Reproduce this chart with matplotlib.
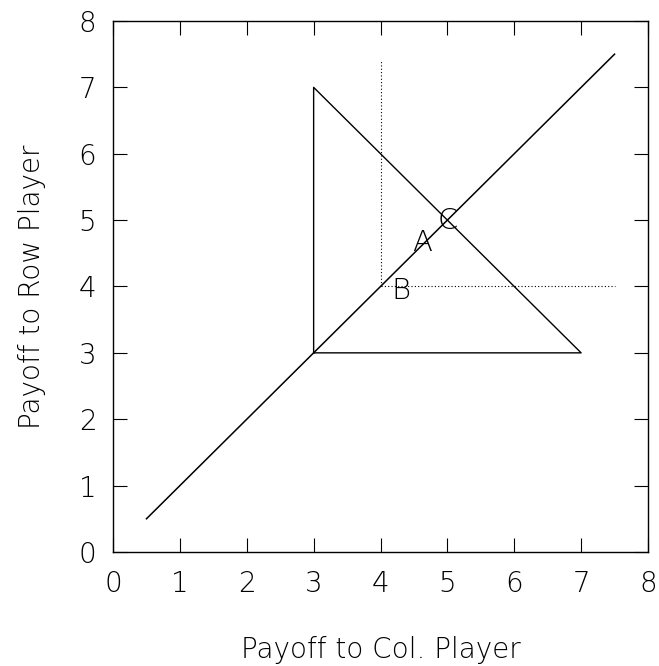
import matplotlib
matplotlib.use("Agg")
import matplotlib.pyplot as plt

# Feasible payoff triangle (column payoff, row payoff)
triangle_x = [3, 3, 7, 3]
triangle_y = [3, 7, 3, 3]

# 45-degree line of equal payoffs
diag_x = [0.5, 7.5]
diag_y = [0.5, 7.5]

# Dotted guide lines through point B
vguide_x = [4, 4]
vguide_y = [4, 7.4]
hguide_x = [4, 7.5]
hguide_y = [4, 4]

# Point labels
point_names = ["A", "B", "C"]
point_x = [4.62, 4.31, 5.01]
point_y = [4.65, 3.93, 4.99]

ticks = [0, 1, 2, 3, 4, 5, 6, 7, 8]

plt.rcParams['font.family'] = ['DejaVu Sans']
fig = plt.figure(figsize=(6.59, 6.66), dpi=100)
ax = fig.add_axes([0.1715, 0.1712, 0.8118, 0.7973])

ax.plot(triangle_x, triangle_y, color="black", lw=1.0)
ax.plot(diag_x, diag_y, color="black", lw=1.1)
ax.plot(vguide_x, vguide_y, color="black", lw=0.8, linestyle=(0, (1, 2)))
ax.plot(hguide_x, hguide_y, color="black", lw=0.8, linestyle=(0, (1, 2)))

for name, px, py in zip(point_names, point_x, point_y):
    ax.text(px, py, name, ha="center", va="center", fontsize=21,
            fontweight="light")

ax.set_xlim(0, 8)
ax.set_ylim(0, 8)
ax.set_xticks(ticks)
ax.set_yticks(ticks)
ax.tick_params(direction="in", length=10, width=0.8, top=True, right=True,
               labelsize=20)
ax.tick_params(axis="x", pad=13)
ax.tick_params(axis="y", pad=12)
for lab in ax.get_xticklabels() + ax.get_yticklabels():
    lab.set_fontweight("light")
for sp in ax.spines.values():
    sp.set_linewidth(1.0)

ax.set_xlabel("Payoff to Col. Player", fontsize=20, fontweight="light")
ax.set_ylabel("Payoff to Row Player", fontsize=20, fontweight="light")
ax.xaxis.set_label_coords(0.5, -0.158)
ax.yaxis.set_label_coords(-0.125, 0.5)

fig.savefig("out.png", dpi=100)
